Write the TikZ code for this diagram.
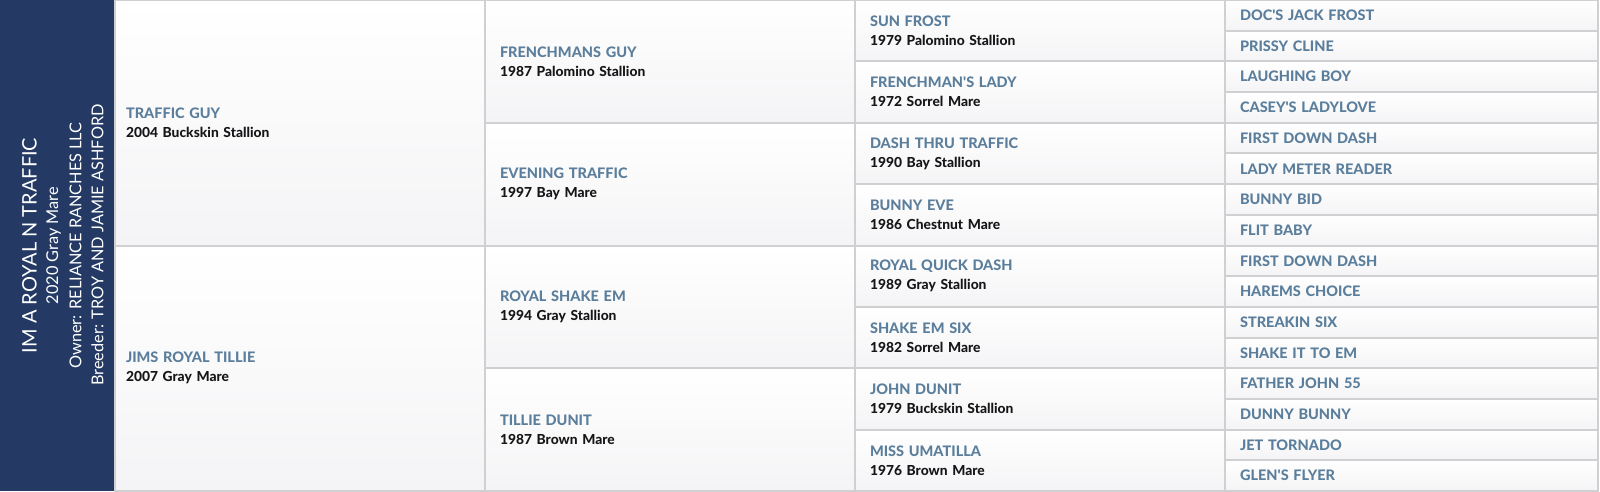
\documentclass[tikz,border=0pt]{standalone}
\usepackage{fontspec}
\setmainfont{Lato}[Ligatures=TeXOff, BoldFont={Lato Heavy}]
\definecolor{navy}{RGB}{36,58,100}
\definecolor{gridc}{RGB}{208,208,210}
\definecolor{namec}{RGB}{90,126,155}
\definecolor{subc}{RGB}{22,22,24}
\definecolor{cellbot}{RGB}{244,244,246}
\newcommand\horse[2]{\textcolor{namec}{\fontsize{14.5}{19}\selectfont\bfseries #1}\\{\color{subc}\fontsize{13.8}{19}\selectfont\bfseries #2}}
\newcommand\anc[1]{\textcolor{namec}{\fontsize{14.5}{19}\selectfont\bfseries #1}}
\tikzset{
  cell/.style={draw=gridc, line width=2pt, top color=white, bottom color=cellbot,
    anchor=north west, text width=340pt, align=left, inner xsep=15pt, inner ysep=0pt,
    outer sep=0pt, font=\fontsize{14}{19}\selectfont},
  c1/.style={cell, minimum height=245.5pt, text width=348pt, inner xsep=11pt},
  c2/.style={cell, minimum height=122.75pt},
  c3/.style={cell, minimum height=61.375pt},
  c4/.style={cell, minimum height=30.6875pt, text width=343pt},
  panel/.style={fill=navy, draw=none, anchor=north west, minimum width=114pt, minimum height=491pt, inner sep=0pt, outer sep=0pt},
  ptext/.style={text=white, rotate=90, inner sep=0pt}
}
\begin{document}
\begin{tikzpicture}[x=1pt,y=-1pt]
\useasboundingbox (0,0) rectangle (1600,491);
\node[panel] (subject) at (0,0) {};
\node[ptext, font=\fontsize{20}{24}\selectfont] (t1) at (29.5,245.5) {IM A ROYAL N TRAFFIC};
\node[ptext, font=\fontsize{16.3}{18}\selectfont] (t2) at (53.5,245.5) {2020 Gray Mare};
\node[ptext, font=\fontsize{16.3}{18}\selectfont] (t3) at (75.5,245.5) {Owner: RELIANCE RANCHES LLC};
\node[ptext, font=\fontsize{16.3}{18}\selectfont] (t4) at (97.5,245) {Breeder: TROY AND JAMIE ASHFORD};
% generation 1
\node[c1] (s) at (115,0) {\horse{TRAFFIC GUY}{2004 Buckskin Stallion}};
\node[c1] (d) at (115,245.5) {\horse{JIMS ROYAL TILLIE}{2007 Gray Mare}};
% generation 2
\node[c2] (ss) at (485,0) {\horse{FRENCHMANS GUY}{1987 Palomino Stallion}};
\node[c2] (sd) at (485,122.75) {\horse{EVENING TRAFFIC}{1997 Bay Mare}};
\node[c2] (ds) at (485,245.5) {\horse{ROYAL SHAKE EM}{1994 Gray Stallion}};
\node[c2] (dd) at (485,368.25) {\horse{TILLIE DUNIT}{1987 Brown Mare}};
% generation 3
\node[c3] (sss) at (855,0) {\horse{SUN FROST}{1979 Palomino Stallion}};
\node[c3] (ssd) at (855,61.375) {\horse{FRENCHMAN'S LADY}{1972 Sorrel Mare}};
\node[c3] (sds) at (855,122.75) {\horse{DASH THRU TRAFFIC}{1990 Bay Stallion}};
\node[c3] (sdd) at (855,184.125) {\horse{BUNNY EVE}{1986 Chestnut Mare}};
\node[c3] (dss) at (855,245.5) {\horse{ROYAL QUICK DASH}{1989 Gray Stallion}};
\node[c3] (dsd) at (855,306.875) {\horse{SHAKE EM SIX}{1982 Sorrel Mare}};
\node[c3] (dds) at (855,368.25) {\horse{JOHN DUNIT}{1979 Buckskin Stallion}};
\node[c3] (ddd) at (855,429.625) {\horse{MISS UMATILLA}{1976 Brown Mare}};
% generation 4
\node[c4] (g1) at (1225,0) {\anc{DOC'S JACK FROST}};
\node[c4] (g2) at (1225,30.6875) {\anc{PRISSY CLINE}};
\node[c4] (g3) at (1225,61.375) {\anc{LAUGHING BOY}};
\node[c4] (g4) at (1225,92.0625) {\anc{CASEY'S LADYLOVE}};
\node[c4] (g5) at (1225,122.75) {\anc{FIRST DOWN DASH}};
\node[c4] (g6) at (1225,153.4375) {\anc{LADY METER READER}};
\node[c4] (g7) at (1225,184.125) {\anc{BUNNY BID}};
\node[c4] (g8) at (1225,214.8125) {\anc{FLIT BABY}};
\node[c4] (g9) at (1225,245.5) {\anc{FIRST DOWN DASH}};
\node[c4] (g10) at (1225,276.1875) {\anc{HAREMS CHOICE}};
\node[c4] (g11) at (1225,306.875) {\anc{STREAKIN SIX}};
\node[c4] (g12) at (1225,337.5625) {\anc{SHAKE IT TO EM}};
\node[c4] (g13) at (1225,368.25) {\anc{FATHER JOHN 55}};
\node[c4] (g14) at (1225,398.9375) {\anc{DUNNY BUNNY}};
\node[c4] (g15) at (1225,429.625) {\anc{JET TORNADO}};
\node[c4] (g16) at (1225,460.3125) {\anc{GLEN'S FLYER}};
\end{tikzpicture}
\end{document}
